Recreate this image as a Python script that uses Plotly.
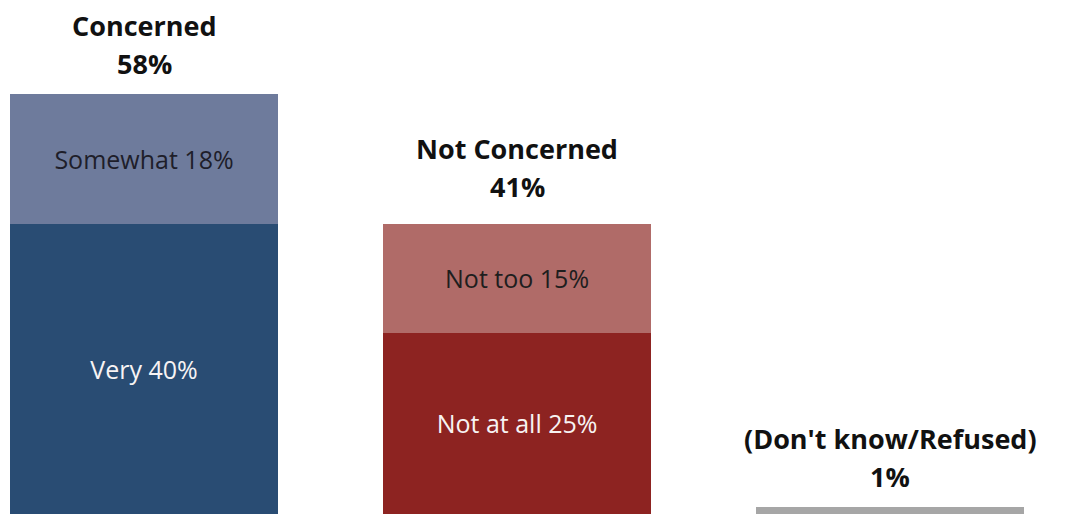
import plotly.graph_objects as go

categories = ["Concerned", "Not Concerned", "(Don't know/Refused)"]
totals = [58, 41, 1]
bottom_labels = ["Very", "Not at all", ""]
bottom_values = [40, 25, 1]
top_labels = ["Somewhat", "Not too", ""]
top_values = [18, 15, 0]

bottom_colors = ["#294C73", "#8D2321", "#A6A6A6"]
top_colors = ["#6E7B9C", "#B06B68", "#A6A6A6"]
bottom_text_colors = ["#F7F3F3", "#F7F3F3", "#F7F3F3"]
top_text_colors = ["#1E1E2A", "#1E1E1E", "#1E1E1E"]

FONT = "Open Sans"

def seg_text(labels, values):
    return [f"{l} {v}%" if l else "" for l, v in zip(labels, values)]

fig = go.Figure()
fig.add_trace(go.Bar(
    x=categories, y=bottom_values, marker_color=bottom_colors, width=0.72,
    text=seg_text(bottom_labels, bottom_values), textposition="inside",
    insidetextanchor="middle", textangle=0, constraintext="none",
    textfont=dict(family=FONT, size=25, color=bottom_text_colors),
    marker_line_width=0, hoverinfo="skip",
))
fig.add_trace(go.Bar(
    x=categories, y=top_values, marker_color=top_colors, width=0.72,
    text=seg_text(top_labels, top_values), textposition="inside",
    insidetextanchor="middle", textangle=0, constraintext="none",
    textfont=dict(family=FONT, size=25, color=top_text_colors),
    marker_line_width=0, hoverinfo="skip",
))

for c, t in zip(categories, totals):
    fig.add_annotation(x=c, y=t, text=f"<b>{t}%</b>", showarrow=False,
                       yanchor="bottom", yshift=10,
                       font=dict(family=FONT, size=27, color="#111111"))
    fig.add_annotation(x=c, y=t, text=f"<b>{c}</b>", showarrow=False,
                       yanchor="bottom", yshift=48,
                       font=dict(family=FONT, size=27, color="#111111"))

fig.update_layout(
    barmode="stack", width=1074, height=514,
    margin=dict(l=0, r=0, t=0, b=0),
    paper_bgcolor="white", plot_bgcolor="white",
    showlegend=False,
    xaxis=dict(type="category", range=[-0.386, 2.493], visible=False),
    yaxis=dict(range=[0, 70.9], visible=False),
)
fig.write_html(
    "out.html",
    config={"displayModeBar": False},
    post_script="document.body.style.margin='0';document.body.style.overflow='hidden';",
)
